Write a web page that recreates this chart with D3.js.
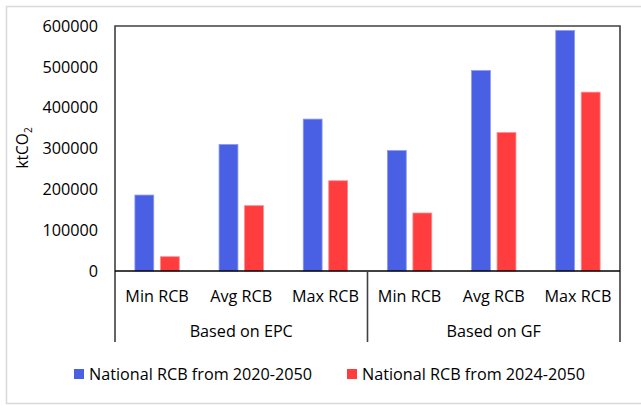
<!DOCTYPE html>
<html>
<head>
<meta charset="utf-8">
<script src="https://cdn.jsdelivr.net/npm/d3@7"></script>
<style>
  html, body { margin: 0; padding: 0; background: #fff; }
  svg text { font-family: "Open Sans", sans-serif; fill: #000; }
</style>
</head>
<body>
<svg id="chart" width="641" height="406"></svg>
<script>
// Remaining carbon budget (RCB) by method and estimate
const groups = ["Based on EPC", "Based on GF"];
const categories = ["Min RCB", "Avg RCB", "Max RCB"];
const seriesNames = ["National RCB from 2020-2050", "National RCB from 2024-2050"];
const rcb2020 = [186000, 310000, 372000, 295000, 491000, 589000];
const rcb2024 = [35000, 160000, 221000, 142000, 339000, 438000];
const yTicks = [0, 100000, 200000, 300000, 400000, 500000, 600000];
const colors = ["#4a60e4", "#ff3c3e"];
const strokes = ["#8d9cf0", "#ff8c8e"];
const FS = "16.2px";

const svg = d3.select("#chart");
const margin = { left: 115, right: 21, top: 26, zeroY: 271 };
const W = 641, H = 406;

// outer frame
svg.append("rect").attr("x", 6.5).attr("y", 6.5).attr("width", W).attr("height", 397)
  .attr("fill", "none").attr("stroke", "#d9d9d9").attr("stroke-width", 1.5);

const rows = [];
groups.forEach((g, gi) => categories.forEach((c, ci) => rows.push({ key: gi + "|" + c, group: g, cat: c, idx: gi * 3 + ci })));

const x = d3.scaleBand().domain(rows.map(r => r.key)).range([margin.left, W - margin.right]).paddingInner(0).paddingOuter(0);
const y = d3.scaleLinear().domain([0, 600000]).range([margin.zeroY, margin.top]);
const xs = d3.scaleBand().domain([0, 1]).range([0, x.bandwidth()]).paddingInner(0.26).paddingOuter(0.78);

// bars
[rcb2020, rcb2024].forEach((vals, si) => {
  svg.append("g").selectAll("rect").data(rows).join("rect")
    .attr("x", d => x(d.key) + xs(si))
    .attr("y", d => y(vals[d.idx]))
    .attr("width", xs.bandwidth())
    .attr("height", d => y(0) - y(vals[d.idx]))
    .attr("fill", colors[si])
    .attr("stroke", strokes[si]).attr("stroke-width", 0.8);
});

// y axis labels
const yAxis = d3.axisLeft(y).tickValues(yTicks).tickFormat(d3.format("d")).tickSize(0).tickPadding(17);
const ya = svg.append("g").attr("transform", `translate(${margin.left},0)`).call(yAxis);
ya.select(".domain").remove();
ya.selectAll("text").style("font-size", FS).style("font-family", "'Open Sans', sans-serif").attr("fill", "#000");

// plot frame
const right = W - margin.right;
svg.append("path")
  .attr("d", `M${margin.left},342 V${margin.top} H${right} V342`)
  .attr("fill", "none").attr("stroke", "#404040").attr("stroke-width", 1.6);
svg.append("line").attr("x1", margin.left).attr("x2", right).attr("y1", y(0)).attr("y2", y(0))
  .attr("stroke", "#000").attr("stroke-width", 1.4);
// group divider
svg.append("line").attr("x1", x(rows[3].key)).attr("x2", x(rows[3].key)).attr("y1", y(0)).attr("y2", 342)
  .attr("stroke", "#404040").attr("stroke-width", 1.6);

// category labels
svg.append("g").selectAll("text").data(rows).join("text")
  .attr("x", d => x(d.key) + x.bandwidth() / 2)
  .attr("y", 296).attr("dy", "0.35em").attr("text-anchor", "middle")
  .style("font-size", FS).text(d => d.cat);

// group labels
svg.append("g").selectAll("text").data(groups).join("text")
  .attr("x", (d, i) => x(rows[i * 3].key) + x.bandwidth() * 1.5)
  .attr("y", 331).attr("dy", "0.35em").attr("text-anchor", "middle")
  .style("font-size", FS).text(d => d);

// y title
const yt = svg.append("text").attr("transform", "translate(28,148) rotate(-90)")
  .attr("text-anchor", "middle").style("font-size", "15.5px");
yt.append("tspan").text("ktCO");
yt.append("tspan").attr("dy", "4").style("font-size", "10px").text("2");

// legend
const legX = [74, 347];
const lg = svg.append("g").selectAll("g").data(seriesNames).join("g")
  .attr("transform", (d, i) => `translate(${legX[i]},369)`);
lg.append("rect").attr("width", 10).attr("height", 10).attr("fill", (d, i) => colors[i]);
lg.append("text").attr("x", 15).attr("y", 5).attr("dy", "0.35em").style("font-size", FS).text(d => d);
</script>
</body>
</html>
